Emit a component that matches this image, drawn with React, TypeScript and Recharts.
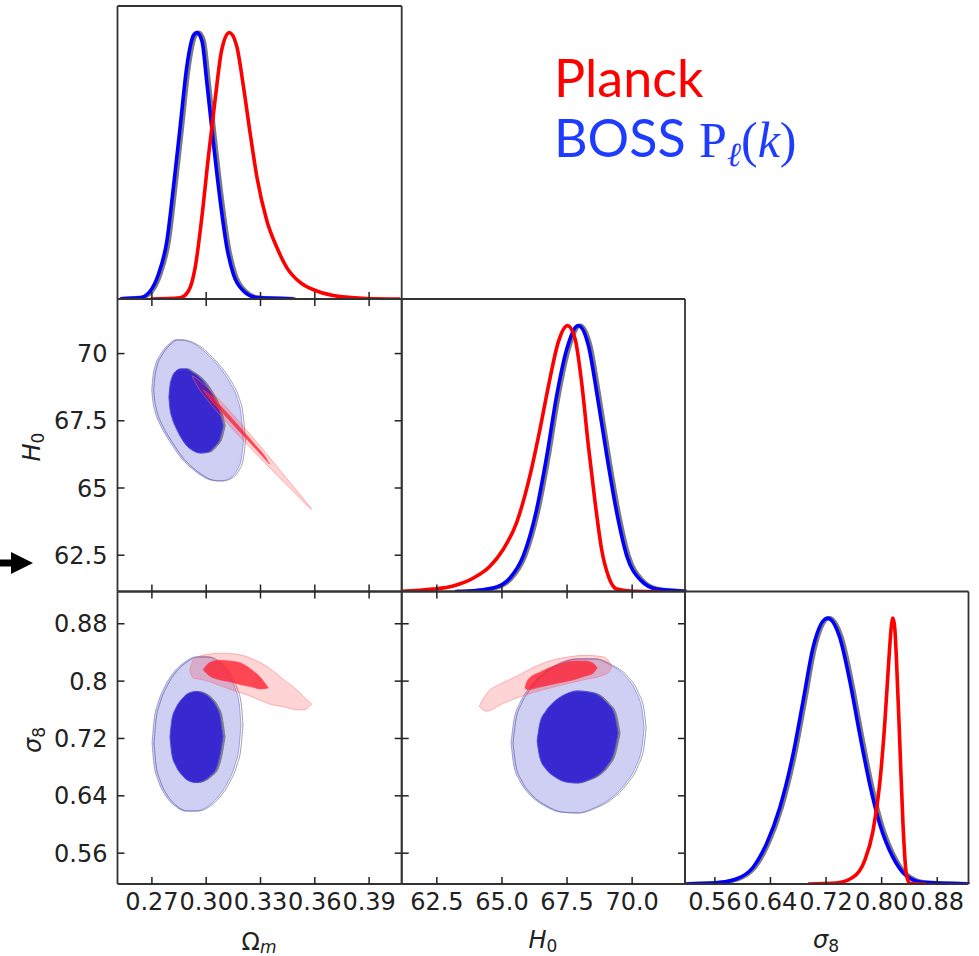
import React from 'react'
import { ComposedChart, Line, Area, XAxis, YAxis } from 'recharts'

const W = 979
const H = 956

// parameter ranges shown on the axes
const omDomain: [number, number] = [0.251, 0.408]
const h0Domain: [number, number] = [61.15, 72.03]
const s8Domain: [number, number] = [0.517, 0.925]
const pdfDomain: [number, number] = [0, 1.1]

// ticks and their labels
const omTicks = [0.27, 0.3, 0.33, 0.36, 0.39]
const omLabels = ['0.27', '0.30', '0.33', '0.36', '0.39']
const h0Ticks = [62.5, 65, 67.5, 70]
const h0XLabels = ['62.5', '65.0', '67.5', '70.0']
const h0YLabels = ['62.5', '65', '67.5', '70']
const s8Ticks = [0.56, 0.64, 0.72, 0.8, 0.88]
const s8XLabels = ['0.56', '0.64', '0.72', '0.80', '0.88']
const s8YLabels = ['0.56', '0.64', '0.72', '0.8', '0.88']

// 1D marginals: [parameter, normalised density]
const omBlue = [
  [0.2525, 0.001], [0.2635, 0.005], [0.2691, 0.03], [0.2736, 0.093], [0.2783, 0.219],
  [0.2819, 0.42], [0.2856, 0.646], [0.2893, 0.873], [0.293, 0.99], [0.2948, 1.0],
  [0.2976, 0.97], [0.3004, 0.81], [0.304, 0.584], [0.3077, 0.37], [0.3114, 0.194],
  [0.315, 0.093], [0.3206, 0.03], [0.328, 0.005], [0.3482, 0.0],
]
const omRed = [
  [0.2691, 0.0], [0.2856, 0.005], [0.2902, 0.03], [0.2939, 0.118], [0.2976, 0.307],
  [0.3012, 0.533], [0.3049, 0.747], [0.3086, 0.936], [0.3128, 1.0], [0.3169, 0.948],
  [0.3206, 0.797], [0.3243, 0.621], [0.328, 0.458], [0.3335, 0.294], [0.339, 0.194],
  [0.3445, 0.118], [0.3519, 0.062], [0.3611, 0.03], [0.374, 0.009], [0.3887, 0.002],
  [0.4071, 0.0],
]
const h0Blue = [
  [63.2, 0.0], [63.63, 0.001], [64.66, 0.013], [65.3, 0.05], [65.81, 0.132],
  [66.33, 0.308], [66.72, 0.509], [67.1, 0.736], [67.49, 0.912], [67.93, 1.0],
  [68.32, 0.925], [68.64, 0.748], [69.03, 0.509], [69.41, 0.296], [69.8, 0.132],
  [70.31, 0.044], [70.95, 0.009], [72.03, 0.001],
]
const h0Red = [
  [61.15, 0.001], [62.35, 0.009], [63.12, 0.021], [63.89, 0.05], [64.53, 0.094],
  [65.04, 0.157], [65.56, 0.258], [66.07, 0.434], [66.46, 0.61], [66.84, 0.799],
  [67.16, 0.937], [67.52, 1.0], [67.81, 0.95], [68.06, 0.786], [68.32, 0.547],
  [68.58, 0.333], [68.83, 0.157], [69.09, 0.057], [69.41, 0.009], [70.05, 0.001],
  [71.08, 0.0],
]
const s8Blue = [
  [0.517, 0.0], [0.56, 0.004], [0.591, 0.019], [0.615, 0.063], [0.634, 0.15],
  [0.6535, 0.288], [0.6726, 0.489], [0.687, 0.689], [0.7013, 0.89], [0.722, 1.0],
  [0.7397, 0.927], [0.7541, 0.764], [0.7684, 0.564], [0.7828, 0.376], [0.7972, 0.226],
  [0.8163, 0.1], [0.8355, 0.031], [0.8594, 0.006], [0.924, 0.0],
]
const s8Red = [
  [0.694, 0.0], [0.735, 0.004], [0.7588, 0.025], [0.7756, 0.088], [0.7876, 0.2],
  [0.7972, 0.376], [0.8044, 0.6], [0.8106, 0.852], [0.8138, 0.965], [0.8163, 1.0],
  [0.8188, 0.965], [0.8212, 0.852], [0.826, 0.539], [0.8307, 0.226], [0.8355, 0.038],
  [0.8403, 0.003], [0.864, 0.0],
]

// 2D contours: [x, lower y, upper y]
const omH0BlueOuter = [
  [0.2699, 68.65, 68.65], [0.2705, 68.25, 69.1], [0.2718, 67.83, 69.54], [0.2746, 67.35, 69.95],
  [0.2773, 67.01, 70.21], [0.2801, 66.71, 70.39], [0.2829, 66.42, 70.51], [0.2856, 66.16, 70.51],
  [0.2911, 65.78, 70.43], [0.2967, 65.49, 70.21], [0.3022, 65.3, 69.87], [0.3077, 65.26, 69.46],
  [0.3132, 65.37, 68.91], [0.3171, 65.67, 68.35], [0.3193, 66.04, 67.72], [0.3206, 66.75, 66.75],
]
const omH0BlueInner = [
  [0.2794, 68.38, 68.38], [0.2799, 68.0, 68.75], [0.2812, 67.6, 69.13], [0.2834, 67.23, 69.35],
  [0.2856, 66.93, 69.43], [0.2889, 66.6, 69.43], [0.2922, 66.41, 69.31], [0.2967, 66.3, 69.09],
  [0.3011, 66.34, 68.72], [0.3049, 66.56, 68.27], [0.3077, 66.86, 67.79], [0.3094, 67.32, 67.32],
]
const omH0RedOuter = [
  [0.2921, 69.18, 69.18], [0.295, 68.8, 69.06], [0.3, 68.33, 68.78], [0.305, 67.92, 68.44],
  [0.31, 67.53, 68.09], [0.315, 67.16, 67.72], [0.32, 66.8, 67.33], [0.325, 66.45, 66.94],
  [0.33, 66.1, 66.54], [0.335, 65.76, 66.13], [0.34, 65.42, 65.72], [0.345, 65.08, 65.31],
  [0.35, 64.74, 64.9], [0.355, 64.4, 64.5], [0.3583, 64.21, 64.21],
]
const omH0RedInner = [
  [0.2985, 68.64, 68.64], [0.302, 68.32, 68.47], [0.308, 67.87, 68.05], [0.315, 67.35, 67.53],
  [0.322, 66.84, 67.0], [0.328, 66.41, 66.53], [0.333, 66.04, 66.12], [0.335, 65.89, 65.89],
]
const omS8BlueOuter = [
  [0.2701, 0.7137, 0.7137], [0.2712, 0.683, 0.7458], [0.2734, 0.662, 0.7695], [0.2773, 0.6411, 0.7932],
  [0.2828, 0.6258, 0.8143], [0.2883, 0.6188, 0.8268], [0.2944, 0.6188, 0.8338], [0.3004, 0.6244, 0.8338],
  [0.3065, 0.6384, 0.8268], [0.312, 0.6593, 0.8113], [0.3159, 0.683, 0.7904], [0.3181, 0.7067, 0.7709],
  [0.3192, 0.7388, 0.7388],
]
const omS8BlueInner = [
  [0.28, 0.722, 0.722], [0.2811, 0.6969, 0.7471], [0.2833, 0.6816, 0.7625], [0.2866, 0.669, 0.775],
  [0.2905, 0.6607, 0.7834], [0.2944, 0.6586, 0.7855], [0.2982, 0.6607, 0.7834], [0.3021, 0.6676, 0.7764],
  [0.3054, 0.6774, 0.7653], [0.3076, 0.6967, 0.7513], [0.3093, 0.722, 0.722],
]
const omS8RedOuter = [
  [0.2909, 0.815, 0.815], [0.293, 0.804, 0.83], [0.298, 0.802, 0.836], [0.303, 0.798, 0.838],
  [0.3093, 0.792, 0.839], [0.315, 0.787, 0.838], [0.32, 0.783, 0.836], [0.3273, 0.776, 0.829],
  [0.335, 0.768, 0.818], [0.3433, 0.764, 0.801], [0.35, 0.76, 0.788], [0.354, 0.76, 0.778],
  [0.3582, 0.768, 0.768],
]
const omS8RedInner = [
  [0.2983, 0.816, 0.816], [0.302, 0.807, 0.826], [0.3073, 0.802, 0.829], [0.313, 0.799, 0.828],
  [0.3193, 0.795, 0.825], [0.325, 0.792, 0.816], [0.33, 0.789, 0.805], [0.3343, 0.7905, 0.7905],
]
const h0S8BlueOuter = [
  [65.35, 0.7137, 0.7137], [65.46, 0.6816, 0.7458], [65.69, 0.6606, 0.7695], [66.08, 0.6411, 0.7918],
  [66.65, 0.6258, 0.8127], [67.23, 0.6174, 0.8253], [67.88, 0.616, 0.831], [68.53, 0.623, 0.831],
  [69.15, 0.6356, 0.8226], [69.73, 0.6565, 0.8073], [70.15, 0.6816, 0.785], [70.38, 0.7083, 0.7598],
  [70.46, 0.7346, 0.7346],
]
const h0S8BlueInner = [
  [66.35, 0.7165, 0.7165], [66.46, 0.6928, 0.7416], [66.69, 0.6774, 0.7583], [67.04, 0.6663, 0.7723],
  [67.46, 0.6593, 0.782], [67.88, 0.6579, 0.7862], [68.3, 0.6621, 0.7848], [68.69, 0.669, 0.7806],
  [69.03, 0.6816, 0.7695], [69.3, 0.7004, 0.7555], [69.46, 0.7276, 0.7276],
]
const h0S8RedOuter = [
  [64.13, 0.765, 0.765], [64.4, 0.758, 0.782], [65.0, 0.768, 0.797], [65.53, 0.776, 0.806],
  [66.2, 0.784, 0.819], [66.92, 0.791, 0.829], [67.6, 0.797, 0.834], [68.17, 0.802, 0.836],
  [68.87, 0.808, 0.834], [69.1, 0.812, 0.828], [69.22, 0.82, 0.82],
]
const h0S8RedInner = [
  [65.88, 0.7905, 0.7905], [66.0, 0.788, 0.802], [66.5, 0.792, 0.813], [67.0, 0.796, 0.821],
  [67.76, 0.802, 0.828], [68.2, 0.807, 0.828], [68.5, 0.811, 0.825], [68.66, 0.8185, 0.8185],
]

// panel edges in page pixels
const colX = [117.5, 401.7, 685, 968.5]
const rowY = [6, 299, 591.5, 884]

const toCurve = (rows: number[][]) => rows.map(([x, y]) => ({ x, y }))
const toBand = (rows: number[][]) => rows.map(([x, lo, hi]) => ({ x, r: [lo, hi] }))

const frame = { stroke: '#333', strokeWidth: 1.8 }
const tickFont = { fontFamily: 'DejaVu Sans', fontSize: 24, fill: '#222' }

function makeTick(side: string, ticks: number[], labels?: string[]) {
  return (props: any) => {
    const { x, y, payload } = props
    const i = ticks.indexOf(payload.value)
    const label = labels && i >= 0 ? labels[i] : null
    const len = 7
    if (side === 'bottom') {
      return (
        <g>
          <line x1={x} x2={x} y1={y} y2={y - len} stroke="#222" strokeWidth={1.5} />
          {label && <text x={x} y={y + 26} textAnchor="middle" {...tickFont}>{label}</text>}
        </g>
      )
    }
    if (side === 'top') {
      return <line x1={x} x2={x} y1={y} y2={y + len} stroke="#222" strokeWidth={1.5} />
    }
    if (side === 'left') {
      return (
        <g>
          <line x1={x} x2={x + len} y1={y} y2={y} stroke="#222" strokeWidth={1.5} />
          {label && <text x={x - 10} y={y + 8.6} textAnchor="end" {...tickFont}>{label}</text>}
        </g>
      )
    }
    return <line x1={x} x2={x - len} y1={y} y2={y} stroke="#222" strokeWidth={1.5} />
  }
}

// each panel is a full-page chart whose margins put its plot box in place;
// axes get 1px of room so that they still render
function Panel({ col, row, xDomain, yDomain, xTicks, yTicks, xLabels, yLabels, children }: any) {
  const margin = {
    top: rowY[row] - 1,
    bottom: H - rowY[row + 1] - 1,
    left: colX[col] - 1,
    right: W - colX[col + 1] - 1,
  }
  const twoD = !!yTicks
  return (
    <div style={{ position: 'absolute', left: 0, top: 0 }}>
      <ComposedChart width={W} height={H} margin={margin}>
        <XAxis xAxisId="b" dataKey="x" type="number" orientation="bottom" domain={xDomain} ticks={xTicks}
          allowDataOverflow interval={0} height={1} tickSize={0} tickMargin={0}
          axisLine={frame} tickLine={false} tick={makeTick('bottom', xTicks, xLabels)} />
        <XAxis xAxisId="t" dataKey="x" type="number" orientation="top" domain={xDomain} ticks={xTicks}
          allowDataOverflow interval={0} height={1} tickSize={0} tickMargin={0}
          axisLine={frame} tickLine={false} tick={twoD ? makeTick('top', xTicks) : false} />
        <YAxis yAxisId="l" type="number" orientation="left" domain={yDomain} ticks={yTicks || [0]}
          allowDataOverflow interval={0} width={1} tickSize={0} tickMargin={0}
          axisLine={frame} tickLine={false} tick={twoD ? makeTick('left', yTicks, yLabels) : false} />
        <YAxis yAxisId="r" type="number" orientation="right" domain={yDomain} ticks={yTicks || [0]}
          allowDataOverflow interval={0} width={1} tickSize={0} tickMargin={0}
          axisLine={frame} tickLine={false} tick={twoD ? makeTick('right', yTicks) : false} />
        {children}
      </ComposedChart>
    </div>
  )
}

function curve(key: string, rows: number[][], color: string, width: number, className?: string) {
  return (
    <Line key={key} xAxisId="b" yAxisId="l" data={toCurve(rows)} dataKey="y" type="monotone"
      stroke={color} strokeWidth={width} dot={false} activeDot={false} className={className}
      isAnimationActive={false} />
  )
}

function band(key: string, rows: number[][], fill: string, fillOpacity: number, stroke: string, strokeOpacity: number, className?: string) {
  return (
    <Area key={key} xAxisId="b" yAxisId="l" data={toBand(rows)} dataKey="r" type="monotone"
      fill={fill} fillOpacity={fillOpacity} stroke={stroke} strokeOpacity={strokeOpacity} strokeWidth={1}
      dot={false} activeDot={false} className={className} isAnimationActive={false} />
  )
}

function contours(outerB: number[][], innerB: number[][], outerR: number[][], innerR: number[][]) {
  return [
    band('go', outerB, '#ffffff', 0, '#8a8a8a', 0.8, 'shift'),
    band('bo', outerB, '#1010c8', 0.2, '#6a6ae0', 0.6),
    band('gi', innerB, '#7a7a7a', 0.9, '#7a7a7a', 0.9, 'shift'),
    band('bi', innerB, '#3828d0', 1, '#4a4ae6', 1),
    band('ro', outerR, '#ff0000', 0.17, '#ff7070', 0.5),
    band('ri', innerR, '#ff1a2c', 0.76, '#ff4050', 0.6),
  ]
}

function marginals(blue: number[][], red: number[][]) {
  return [
    curve('g', blue, '#7c7c7c', 4.2, 'shift'),
    curve('b', blue, '#0000ff', 3.6),
    curve('r', red, '#ff0000', 3.6),
  ]
}

const labelFont = { fontFamily: 'DejaVu Sans', fontSize: 24, fill: '#222' }

export default function App() {
  return (
    <div style={{ position: 'absolute', left: 0, top: 0, width: W, height: H, background: '#fff' }}>
      <style>{'.shift { transform: translate(2px, 0px); }'}</style>

      <Panel col={0} row={0} xDomain={omDomain} yDomain={pdfDomain} xTicks={omTicks}>
        {marginals(omBlue, omRed)}
      </Panel>
      <Panel col={0} row={1} xDomain={omDomain} yDomain={h0Domain} xTicks={omTicks} yTicks={h0Ticks} yLabels={h0YLabels}>
        {contours(omH0BlueOuter, omH0BlueInner, omH0RedOuter, omH0RedInner)}
      </Panel>
      <Panel col={1} row={1} xDomain={h0Domain} yDomain={pdfDomain} xTicks={h0Ticks}>
        {marginals(h0Blue, h0Red)}
      </Panel>
      <Panel col={0} row={2} xDomain={omDomain} yDomain={s8Domain} xTicks={omTicks} xLabels={omLabels} yTicks={s8Ticks} yLabels={s8YLabels}>
        {contours(omS8BlueOuter, omS8BlueInner, omS8RedOuter, omS8RedInner)}
      </Panel>
      <Panel col={1} row={2} xDomain={h0Domain} yDomain={s8Domain} xTicks={h0Ticks} xLabels={h0XLabels} yTicks={s8Ticks}>
        {contours(h0S8BlueOuter, h0S8BlueInner, h0S8RedOuter, h0S8RedInner)}
      </Panel>
      <Panel col={2} row={2} xDomain={s8Domain} yDomain={pdfDomain} xTicks={s8Ticks} xLabels={s8XLabels}>
        {marginals(s8Blue, s8Red)}
      </Panel>

      <svg width={W} height={H} style={{ position: 'absolute', left: 0, top: 0, pointerEvents: 'none' }}>
        {/* axis labels */}
        <text x={259} y={950} textAnchor="middle" {...labelFont}>
          Ω<tspan fontStyle="italic" fontSize={17} dy={3}>m</tspan>
        </text>
        <text x={543} y={948} textAnchor="middle" {...labelFont}>
          <tspan fontStyle="italic">H</tspan><tspan fontSize={17} dy={4}>0</tspan>
        </text>
        <text x={826} y={948} textAnchor="middle" {...labelFont}>
          <tspan fontStyle="italic">σ</tspan><tspan fontSize={17} dy={4}>8</tspan>
        </text>
        <text transform="translate(40,447) rotate(-90)" textAnchor="middle" {...labelFont}>
          <tspan fontStyle="italic">H</tspan><tspan fontSize={17} dy={4}>0</tspan>
        </text>
        <text transform="translate(41,740) rotate(-90)" textAnchor="middle" {...labelFont}>
          <tspan fontStyle="italic">σ</tspan><tspan fontSize={17} dy={4}>8</tspan>
        </text>

        {/* legend */}
        <text x={554} y={97} fontFamily="Lato" fontSize={52} fill="#ff0000">Planck</text>
        <text x={554} y={157} fill="#1e3cff">
          <tspan fontFamily="Lato" fontSize={52}>BOSS </tspan>
          <tspan fontFamily="Liberation Serif" fontSize={50}>P</tspan>
          <tspan fontFamily="Liberation Serif" fontStyle="italic" fontSize={34} dy={9}>ℓ</tspan>
          <tspan fontFamily="Liberation Serif" fontSize={50} dy={-9}>(</tspan>
          <tspan fontFamily="Liberation Serif" fontStyle="italic" fontSize={50}>k</tspan>
          <tspan fontFamily="Liberation Serif" fontSize={50}>)</tspan>
        </text>

        {/* arrow pointing at the 62.5 tick */}
        <polygon points="0,559.5 11,559.5 11,552 33,563 11,574 11,566.5 0,566.5" fill="#000" />
      </svg>
    </div>
  )
}
